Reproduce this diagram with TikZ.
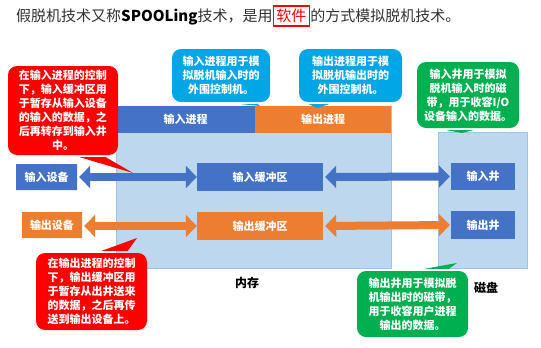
\documentclass[tikz,border=0pt]{standalone}
\usepackage{fontspec}
\setmainfont{Noto Sans CJK SC}
\usetikzlibrary{positioning,arrows.meta,shapes.misc,calc}
\definecolor{procblue}{RGB}{68,114,196}
\definecolor{procorange}{RGB}{237,125,49}
\definecolor{memfill}{RGB}{189,215,238}
\definecolor{memline}{RGB}{157,195,230}
\definecolor{tipred}{RGB}{255,0,0}
\definecolor{tipgreen}{RGB}{0,176,80}
\definecolor{tipcyan}{RGB}{0,166,230}
\definecolor{titlegray}{RGB}{50,50,50}

\begin{document}
\begin{tikzpicture}[x=1pt,y=-1pt,
  lbl/.style={font=\fontsize{11}{13}\selectfont\bfseries},
  box/.style={fill=#1,text=white,lbl,inner sep=0pt},
  devbox/.style={chamfered rectangle,chamfered rectangle corners=north east,
    chamfered rectangle xsep=0pt,chamfered rectangle ysep=0pt,
    fill=#1,text=white,lbl,inner sep=0pt,minimum width=61pt,minimum height=26pt},
  area/.style={fill=memfill,draw=memline,line width=0.8pt},
  dataflow/.style={draw=#1,line width=8pt,
    arrows={Triangle[length=11pt,width=22pt]-Triangle[length=11pt,width=22pt]}},
  callout/.style={fill=#1,text=white,rounded corners=9pt,align=center,inner sep=0pt,
    font=\fontsize{11}{14}\selectfont\bfseries}]
\useasboundingbox (0,0) rectangle (541,348);

% title line
\node[anchor=west,inner sep=0pt,text=titlegray,font=\fontsize{15}{18}\selectfont] (title) at (16,16)
  {假脱机技术又称\textbf{\color{black}SPOOLing}技术，是用{\setlength\fboxsep{2.5pt}\setlength\fboxrule{1.4pt}\fcolorbox{tipred}{white}{\textcolor{tipred}{软件}}}的方式模拟脱机技术。};

% memory and disk areas
\node[area,minimum width=275pt,minimum height=162pt,inner sep=0pt] (mem) at (253.5,187) {};
\node[box=procblue,minimum width=139pt,minimum height=27pt] (inproc) at (185.5,119.5) {输入进程};
\node[box=procorange,minimum width=136pt,minimum height=27pt] (outproc) at (323,119.5) {输出进程};
\node[area,minimum width=89pt,minimum height=136pt,inner sep=0pt] (disk) at (482.5,200) {};
\node[lbl,font=\fontsize{12}{14}\selectfont\bfseries] (memlbl) at (247,283) {内存};
\node[lbl,font=\fontsize{12}{14}\selectfont\bfseries] (disklbl) at (486,288) {磁盘};

% buffers, wells, devices
\node[box=procblue,minimum width=126pt,minimum height=28pt] (inbuf) at (260,177) {输入缓冲区};
\node[box=procorange,minimum width=126pt,minimum height=28pt] (outbuf) at (260,226) {输出缓冲区};
\node[box=procblue,minimum width=64pt,minimum height=27pt] (inwell) at (483,176.5) {输入井};
\node[box=procblue,minimum width=64pt,minimum height=28pt] (outwell) at (483,225) {输出井};
\node[devbox=procblue] (indev) at (46.5,177) {输入设备};
\node[devbox=procorange,minimum width=60pt] (outdev) at (52,225) {输出设备};

% data paths
\draw[dataflow=procblue,shorten <=2pt] (indev.east) -- (inbuf.west);
\draw[dataflow=procblue,shorten <=2pt,shorten >=1pt] (inbuf.east) -- (inwell.west);
\draw[dataflow=procorange,shorten <=2pt] (outdev.east |- outbuf.west) -- (outbuf.west);
\draw[dataflow=procorange,shorten <=2pt,shorten >=1pt] (outbuf.east) -- (outwell.west);

% notes
\node[callout=tipred,minimum width=110pt,minimum height=89pt] (noteinbuf) at (63,110.5)
  {在输入进程的控制\\下，输入缓冲区用\\于暂存从输入设备\\的输入的数据，之\\后再转存到输入井\\中。};
\coordinate (noteinbuftip) at (133,173);
\fill[tipred] ($(noteinbuf.south west)+(72,2)$) -- (noteinbuftip) -- ($(noteinbuf.south west)+(98,2)$) -- cycle;

\node[callout=tipred,minimum width=111pt,minimum height=77pt] (noteoutbuf) at (91.5,291.5)
  {在输出进程的控制\\下，输出缓冲区用\\于暂存从出井送来\\的数据，之后再传\\送到输出设备上。};
\coordinate (noteoutbuftip) at (137,238);
\fill[tipred] ($(noteoutbuf.north west)+(66,-2)$) -- (noteoutbuftip) -- ($(noteoutbuf.north west)+(92,-2)$) -- cycle;

\node[callout=tipcyan,minimum width=98pt,minimum height=53pt] (noteinproc) at (221,75.5)
  {输入进程用于模\\拟脱机输入时的\\外围控制机。};
\coordinate (noteinproctip) at (260,106);
\fill[tipcyan] ($(noteinproc.south west)+(70,2)$) -- (noteinproctip) -- ($(noteinproc.south west)+(86,2)$) -- cycle;

\node[callout=tipcyan,minimum width=103pt,minimum height=53pt] (noteoutproc) at (350.5,75.5)
  {输出进程用于模\\拟脱机输出时的\\外围控制机。};
\coordinate (noteoutproctip) at (317,108);
\fill[tipcyan] ($(noteoutproc.south west)+(10,2)$) -- (noteoutproctip) -- ($(noteoutproc.south west)+(30,2)$) -- cycle;

\node[callout=tipgreen,minimum width=102pt,minimum height=66pt] (noteinwell) at (468,95)
  {输入井用于模拟\\脱机输入时的磁\\带，用于收容I/O\\设备输入的数据。};
\coordinate (noteinwelltip) at (462,133);
\fill[tipgreen] ($(noteinwell.south west)+(30,2)$) -- (noteinwelltip) -- ($(noteinwell.south west)+(56,2)$) -- cycle;

\node[callout=tipgreen,minimum width=111pt,minimum height=66pt] (noteoutwell) at (412.5,304)
  {输出井用于模拟脱\\机输出时的磁带，\\用于收容用户进程\\输出的数据。};
\coordinate (noteoutwelltip) at (457,263);
\fill[tipgreen] ($(noteoutwell.north west)+(68,-2)$) -- (noteoutwelltip) -- ($(noteoutwell.north west)+(92,-2)$) -- cycle;
\end{tikzpicture}
\end{document}
